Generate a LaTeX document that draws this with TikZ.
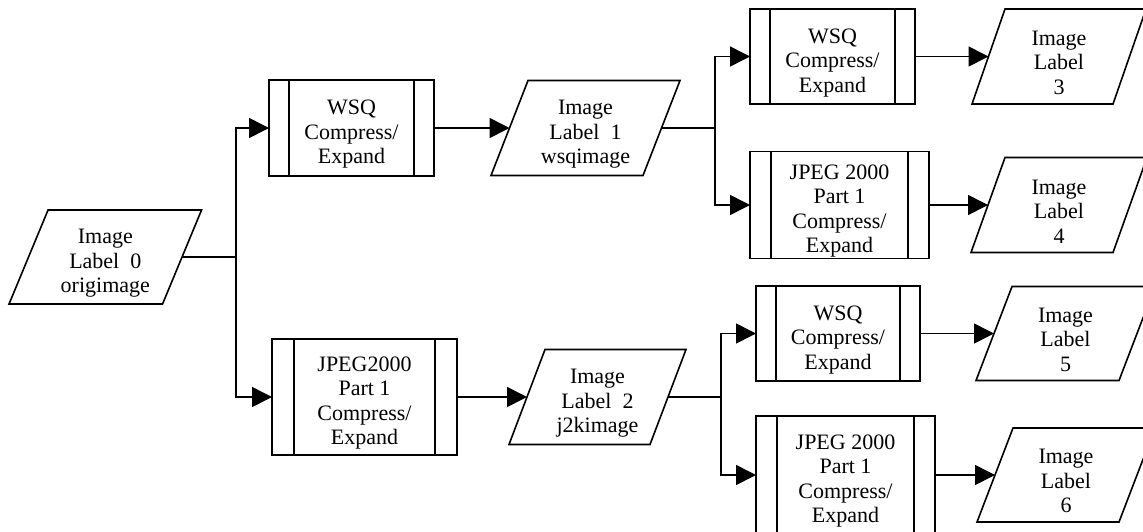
\documentclass[tikz,border=0pt]{standalone}
\usepackage{fontspec}
\setmainfont{Liberation Serif}
\usetikzlibrary{arrows.meta}
\newcommand\proclines[2]{%
  \draw ([xshift=#2]#1.north west) -- ([xshift=#2]#1.south west);
  \draw ([xshift=-#2]#1.north east) -- ([xshift=-#2]#1.south east);}
\newcommand\paraout[2]{%
  \draw ([xshift=#2/2]#1.north west) -- ([xshift=#2/2]#1.north east)
     -- ([xshift=-#2/2]#1.south east) -- ([xshift=-#2/2]#1.south west) -- cycle;}
\newcommand\dnshift{\rule{0pt}{27pt}}
\begin{document}
\begin{tikzpicture}[x=1pt,y=-1pt,line width=1.6pt,
  every node/.style={font=\fontsize{22}{24.5}\selectfont, align=center, outer sep=0pt, inner sep=1pt},
  procbox/.style={draw, rectangle},
  iobox/.style={rectangle},
  arr/.style={-{Triangle[length=20pt,width=20pt]}},
]
\useasboundingbox (0,0) rectangle (1143,531);
\clip (0,0) rectangle (1143,531);
\fill[white] (0,0) rectangle (1143,531);

% input/output parallelograms
\node[iobox, minimum width=153.5pt, minimum height=94pt] (p0) at (105.3,257) {\dnshift Image\\Label\ \ 0\\origimage};
\node[iobox, minimum width=152pt, minimum height=95pt] (p1) at (585.5,128) {\dnshift Image\\Label\ \ 1\\wsqimage};
\node[iobox, minimum width=141pt, minimum height=95pt] (p2) at (597.5,397) {\dnshift Image\\Label\ \ 2\\j2kimage};
\node[iobox, minimum width=141pt, minimum height=95pt] (p3) at (1059,56.5) {\dnshift Image\\Label\\3};
\node[iobox, minimum width=142pt, minimum height=95pt] (p4) at (1059,205) {\dnshift Image\\Label\\4};
\node[iobox, minimum width=143pt, minimum height=94pt] (p5) at (1065.5,333.5) {\dnshift Image\\Label\\5};
\node[iobox, minimum width=142pt, minimum height=94pt] (p6) at (1066,475) {\dnshift Image\\Label\\6};
\paraout{p0}{39}
\paraout{p1}{37}
\paraout{p2}{36}
\paraout{p3}{33}
\paraout{p4}{34}
\paraout{p5}{36}
\paraout{p6}{36}

% process boxes
\node[procbox, minimum width=165pt, minimum height=96pt] (b1) at (351.5,128) {\dnshift WSQ\\Compress/\\Expand};
\node[procbox, minimum width=185pt, minimum height=116pt] (b2) at (364.5,397) {\dnshift JPEG2000\\Part 1\\Compress/\\Expand};
\node[procbox, minimum width=165pt, minimum height=95pt] (b3) at (832.5,56.5) {\dnshift WSQ\\Compress/\\Expand};
\node[procbox, minimum width=179pt, minimum height=106pt] (b4) at (839.5,205) {\dnshift JPEG 2000\\Part 1\\Compress/\\Expand};
\node[procbox, minimum width=164pt, minimum height=95pt] (b5) at (838,333.5) {\dnshift WSQ\\Compress/\\Expand};
\node[procbox, minimum width=179pt, minimum height=118pt] (b6) at (845.5,475) {\dnshift JPEG 2000\\Part 1\\Compress/\\Expand};
\proclines{b1}{20}
\proclines{b2}{22}
\proclines{b3}{20}
\proclines{b4}{21}
\proclines{b5}{20}
\proclines{b6}{21}

% connectors
\coordinate (j0) at (236,257);
\coordinate (j1) at (715,128);
\coordinate (j2) at (721,397);
\draw (p0.east) -- (j0);
\draw[arr] (j0) |- (b1.west);
\draw[arr] (j0) |- (b2.west);
\draw[arr] (b1.east) -- (p1.west);
\draw[arr] (b2.east) -- (p2.west);
\draw (p1.east) -- (j1);
\draw[arr] (j1) |- (b3.west);
\draw[arr] (j1) |- (b4.west);
\draw (p2.east) -- (j2);
\draw[arr] (j2) |- (b5.west);
\draw[arr] (j2) |- (b6.west);
\draw[arr] (b3.east) -- (p3.west);
\draw[arr] (b4.east) -- (p4.west);
\draw[arr] (b5.east) -- (p5.west);
\draw[arr] (b6.east) -- (p6.west);
\end{tikzpicture}
\end{document}
